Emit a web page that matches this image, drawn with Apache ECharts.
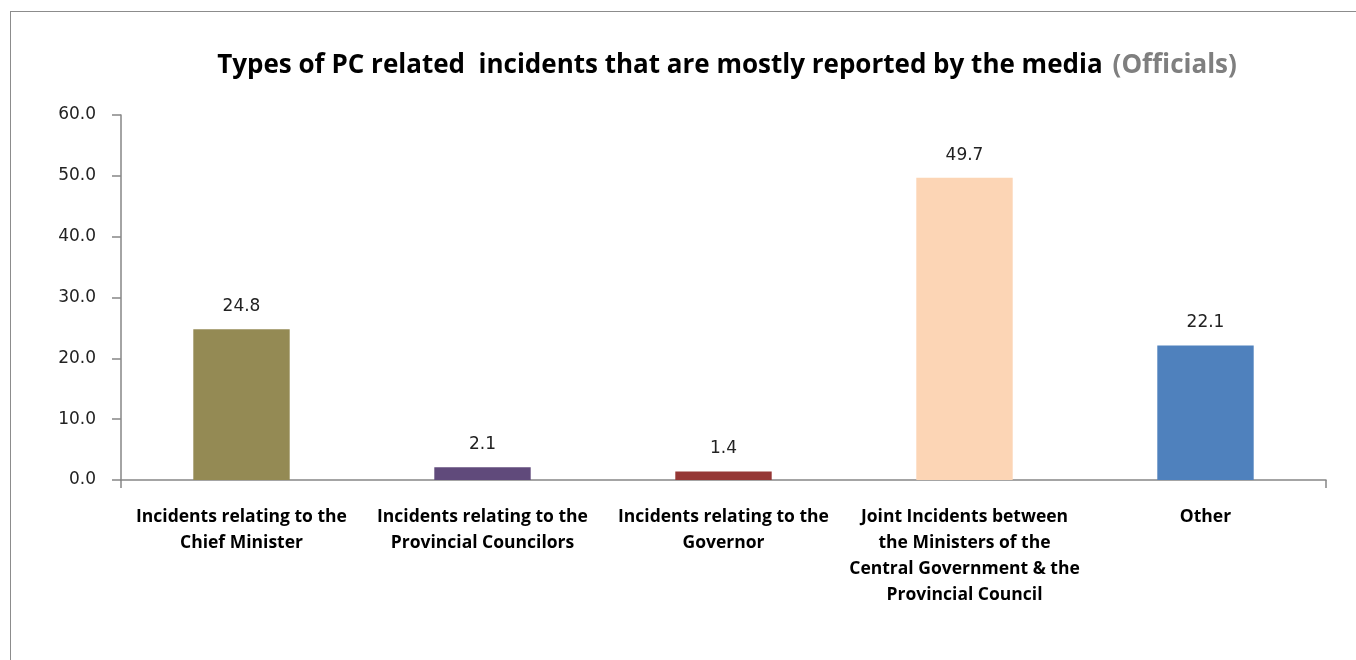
<!DOCTYPE html>
<html><head><meta charset="utf-8">
<script src="https://cdn.jsdelivr.net/npm/echarts@6/dist/echarts.min.js"></script>
<style>
html,body{margin:0;padding:0;background:#fff;overflow:hidden;}
#frame{position:absolute;left:10px;top:11px;width:1400px;height:700px;border:1.5px solid #8c8c8c;box-sizing:border-box;}
#chart{position:absolute;left:0;top:0;width:1356px;height:660px;}
</style></head>
<body>
<div id="frame"></div>
<div id="chart"></div>
<script>
var categories = [
  "Incidents relating to the\nChief Minister",
  "Incidents relating to the\nProvincial Councilors",
  "Incidents relating to the\nGovernor",
  "Joint Incidents between\nthe Ministers of the\nCentral Government & the\nProvincial Council",
  "Other"
];
var values = [24.8, 2.1, 1.4, 49.7, 22.1];
var barColors = ["#948A54", "#604A7B", "#953735", "#FCD5B5", "#4F81BD"];
var yTicks = { min: 0, max: 60, interval: 10 };

var chart = echarts.init(document.getElementById('chart'));
chart.setOption({
  animation: false,
  title: {
    text: '{a|Types of PC related  incidents that are mostly reported by the media}  {b|(Officials)}',
    left: 722, top: 48, textAlign: 'center',
    textStyle: {
      rich: {
        a: { fontFamily: 'Open Sans', fontWeight: 'bold', fontSize: 26, color: '#000' },
        b: { fontFamily: 'Open Sans', fontWeight: 'bold', fontSize: 26, color: '#7f7f7f' }
      }
    }
  },
  grid: { left: 121, right: 30, top: 115, bottom: 180, containLabel: false },
  xAxis: {
    type: 'category',
    data: categories,
    axisLine: { lineStyle: { color: '#868686', width: 1.5 } },
    axisTick: { show: true, length: 8, lineStyle: { color: '#868686', width: 1.5 },
      interval: function (i) { return i === 0 || i === categories.length; } },
    axisLabel: {
      interval: 0, margin: 24, color: '#000',
      fontFamily: 'Open Sans', fontWeight: 'bold', fontSize: 17.5, lineHeight: 26
    }
  },
  yAxis: {
    type: 'value', min: yTicks.min, max: yTicks.max, interval: yTicks.interval,
    splitLine: { show: false },
    axisLine: { show: true, lineStyle: { color: '#868686', width: 1.5 } },
    axisTick: { show: true, length: 9, lineStyle: { color: '#868686', width: 1.5 } },
    axisLabel: {
      margin: 25, color: '#222', fontFamily: 'DejaVu Sans', fontSize: 17,
      formatter: function (v) { return v.toFixed(1); }
    }
  },
  series: [{
    type: 'bar',
    barWidth: '40%',
    data: values.map(function (v, i) { return { value: v, itemStyle: { color: barColors[i] } }; }),
    label: {
      show: true, position: 'top', distance: 14, color: '#222',
      fontFamily: 'DejaVu Sans', fontSize: 17,
      formatter: function (p) { return p.value.toFixed(1); }
    }
  }]
});
</script>
</body></html>
